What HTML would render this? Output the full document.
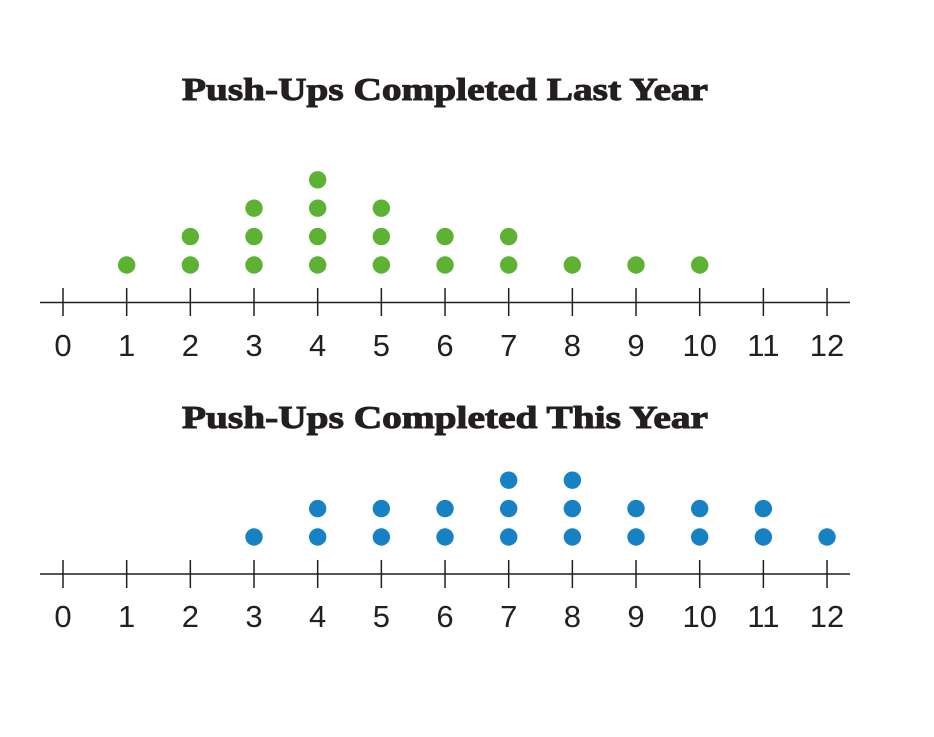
<!DOCTYPE html>
<html><head><meta charset="utf-8"><style>html,body{margin:0;padding:0;background:#fff}</style></head>
<body>
<svg width="934" height="732" viewBox="0 0 934 732" xmlns="http://www.w3.org/2000/svg">
<g font-family="Liberation Serif, serif" font-weight="bold" font-size="32" fill="#231f20" stroke="#231f20" stroke-width="1">
<text x="182" y="100" textLength="526" lengthAdjust="spacingAndGlyphs">Push-Ups Completed Last Year</text>
<text x="182" y="428" textLength="526" lengthAdjust="spacingAndGlyphs">Push-Ups Completed This Year</text>
</g>
<g id="ax" stroke="#231f20" stroke-width="1.5">
<line x1="40" y1="302.5" x2="850" y2="302.5"/>
<line x1="40" y1="574" x2="850" y2="574"/>
</g>
<g stroke="#231f20" stroke-width="1.5" id="ticks"></g>
<g font-family="Liberation Sans, sans-serif" font-size="31" fill="#231f20" text-anchor="middle" id="labels"></g>
<g id="dots"></g>
</svg>
<script>
var ns="http://www.w3.org/2000/svg";
function el(t,a,p,txt){var e=document.createElementNS(ns,t);for(var k in a)e.setAttribute(k,a[k]);if(txt!==undefined)e.textContent=txt;document.getElementById(p).appendChild(e);}
function X(i){return 63+i*63.67;}
for(var i=0;i<=12;i++){
 el("line",{x1:X(i),y1:288,x2:X(i),y2:316},"ticks");
 el("line",{x1:X(i),y1:560,x2:X(i),y2:588},"ticks");
 el("text",{x:X(i),y:356},"labels",i);
 el("text",{x:X(i),y:627},"labels",i);
}
var a=[0,1,2,3,4,3,2,2,1,1,1,0,0];
var b=[0,0,0,1,2,2,2,3,3,2,2,2,1];
for(var i=0;i<=12;i++){
 for(var j=0;j<a[i];j++)el("circle",{cx:X(i),cy:265-j*28.4,r:8.7,fill:"#5db133"},"dots");
 for(var j=0;j<b[i];j++)el("circle",{cx:X(i),cy:537-j*28.4,r:8.7,fill:"#1782c3"},"dots");
}
</script>
</body></html>
